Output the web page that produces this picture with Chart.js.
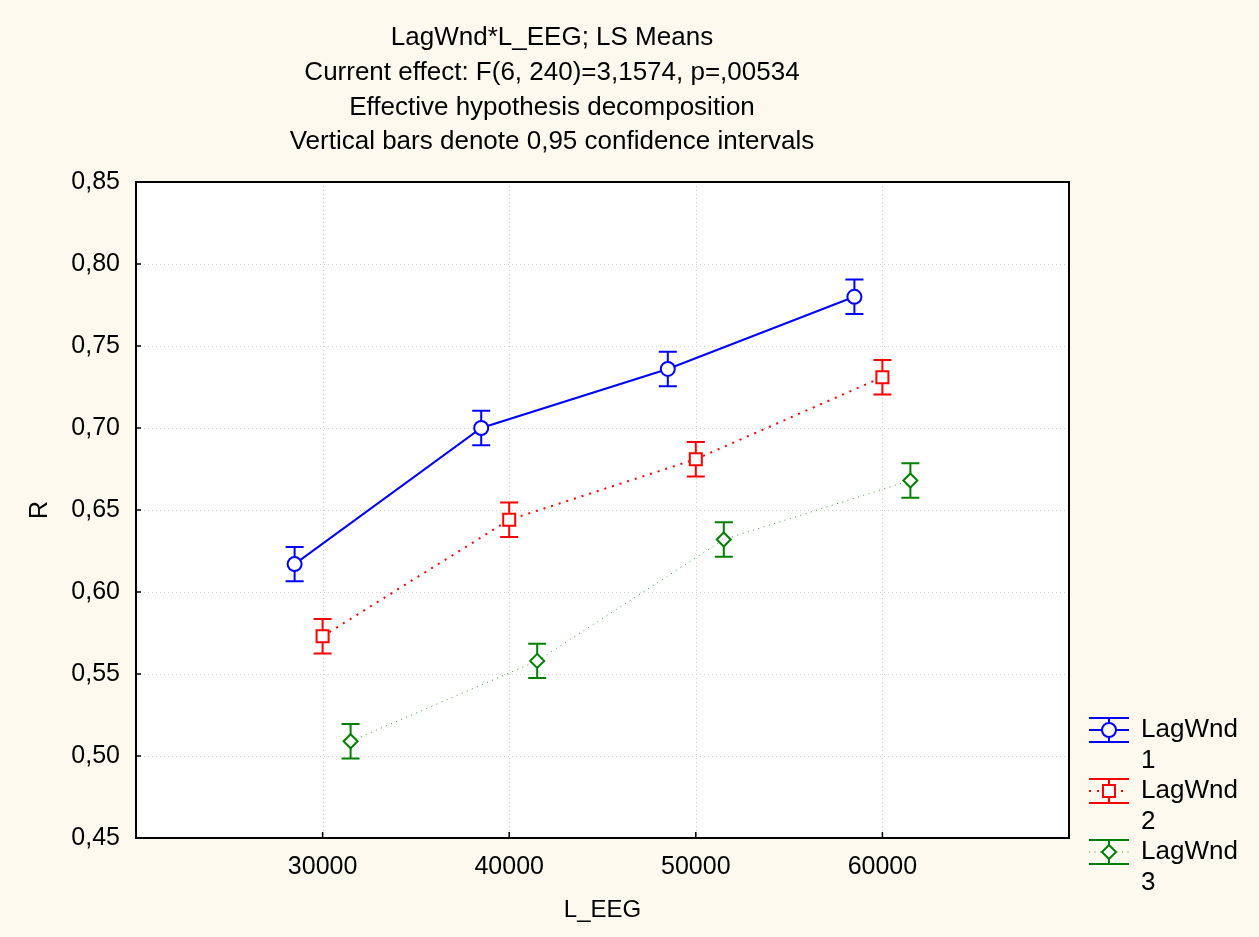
<!DOCTYPE html>
<html><head><meta charset="utf-8">
<script src="https://cdn.jsdelivr.net/npm/chart.js@4/dist/chart.umd.min.js"></script>
<style>html,body{margin:0;padding:0;background:#FDF9EE;}</style>
</head><body>
<canvas id="c" width="1259" height="937"></canvas>
<script>
const titleLines = [
  'LagWnd*L_EEG; LS Means',
  'Current effect: F(6, 240)=3,1574, p=,00534',
  'Effective hypothesis decomposition',
  'Vertical bars denote 0,95 confidence intervals'
];
const xTicks = [30000, 40000, 50000, 60000];
const yTicks = [0.45, 0.50, 0.55, 0.60, 0.65, 0.70, 0.75, 0.80, 0.85];
const seriesNames = [['LagWnd', '1'], ['LagWnd', '2'], ['LagWnd', '3']];
// x positions as plotted (series are offset around each L_EEG level)
const lag1X = [28500, 38500, 48500, 58500];
const lag2X = [30000, 40000, 50000, 60000];
const lag3X = [31500, 41500, 51500, 61500];
const lag1 = [0.617, 0.700, 0.736, 0.780];
const lag2 = [0.573, 0.644, 0.681, 0.731];
const lag3 = [0.509, 0.558, 0.632, 0.668];
const lag1CI = [0.0105, 0.0105, 0.0105, 0.0105];
const lag2CI = [0.0105, 0.0105, 0.0105, 0.0105];
const lag3CI = [0.0105, 0.0105, 0.0105, 0.0105];

const FONT = '"Liberation Sans", Arial, sans-serif';
const FS = 25;
const FT = 26;

const styles = [
  {color:'#0000FF', lineColor:'#0000FF', width:2, dash:[], point:'circle', r:7},
  {color:'#FF0000', lineColor:'#FF0000', width:2, dash:[2,6], point:'rect', r:8.5},
  {color:'#008000', lineColor:'#3a9a3a', width:1, dash:[1,4.5], point:'rectRot', r:7}
];
const xs = [lag1X, lag2X, lag3X];
const ys = [lag1, lag2, lag3];
const cis = [lag1CI, lag2CI, lag3CI];

const datasets = ys.map((vals, i) => ({
  label: seriesNames[i].join(' '),
  data: vals.map((v, j) => ({x: xs[i][j], y: v})),
  showLine: true,
  borderColor: styles[i].lineColor,
  borderWidth: styles[i].width,
  borderDash: styles[i].dash,
  pointStyle: styles[i].point,
  pointRadius: styles[i].r,
  pointBorderWidth: 2,
  pointBorderColor: styles[i].color,
  pointBackgroundColor: '#FFFFFF',
  ciVals: cis[i]
}));

function marker(ctx, style, x, y, r) {
  ctx.beginPath();
  if (style === 'circle') ctx.arc(x, y, r, 0, Math.PI * 2);
  else if (style === 'rect') { const s = r * Math.SQRT1_2; ctx.rect(x - s, y - s, 2 * s, 2 * s); }
  else { ctx.moveTo(x, y - r); ctx.lineTo(x + r, y); ctx.lineTo(x, y + r); ctx.lineTo(x - r, y); ctx.closePath(); }
  ctx.fillStyle = '#fff'; ctx.fill(); ctx.stroke();
}

const decor = {
  id: 'decor',
  beforeDraw(chart) {
    const {ctx, chartArea: a} = chart;
    ctx.save();
    ctx.fillStyle = '#FDF9EE';
    ctx.fillRect(0, 0, chart.width, chart.height);
    ctx.fillStyle = '#FFFFFF';
    ctx.fillRect(a.left, a.top, a.right - a.left, a.bottom - a.top);
    ctx.strokeStyle = '#cfcfcf'; ctx.lineWidth = 1; ctx.setLineDash([1, 3]);
    const sx = chart.scales.x, sy = chart.scales.y;
    xTicks.forEach(v => { const px = Math.round(sx.getPixelForValue(v)) + 0.5;
      ctx.beginPath(); ctx.moveTo(px, a.top); ctx.lineTo(px, a.bottom); ctx.stroke(); });
    yTicks.forEach(v => { const py = Math.round(sy.getPixelForValue(v)) + 0.5;
      ctx.beginPath(); ctx.moveTo(a.left, py); ctx.lineTo(a.right, py); ctx.stroke(); });
    ctx.setLineDash([]);
    ctx.restore();
  },
  beforeDatasetsDraw(chart) {
    const {ctx} = chart;
    const sx = chart.scales.x, sy = chart.scales.y;
    ctx.save();
    chart.data.datasets.forEach((ds, i) => {
      ctx.strokeStyle = styles[i].color; ctx.lineWidth = 2;
      ds.data.forEach((p, j) => {
        const px = sx.getPixelForValue(p.x);
        const t = sy.getPixelForValue(p.y + ds.ciVals[j]);
        const b = sy.getPixelForValue(p.y - ds.ciVals[j]);
        ctx.beginPath();
        ctx.moveTo(px, t); ctx.lineTo(px, b);
        ctx.moveTo(px - 9, t); ctx.lineTo(px + 9, t);
        ctx.moveTo(px - 9, b); ctx.lineTo(px + 9, b);
        ctx.stroke();
      });
    });
    ctx.restore();
  },
  afterDraw(chart) {
    const {ctx, chartArea: a} = chart;
    const sx = chart.scales.x, sy = chart.scales.y;
    ctx.save();
    ctx.strokeStyle = '#000'; ctx.lineWidth = 2;
    ctx.strokeRect(a.left, a.top, a.right - a.left, a.bottom - a.top);
    ctx.lineWidth = 1.5;
    xTicks.forEach(v => { const px = sx.getPixelForValue(v);
      ctx.beginPath(); ctx.moveTo(px, a.bottom); ctx.lineTo(px, a.bottom - 6); ctx.stroke(); });
    yTicks.forEach(v => { const py = sy.getPixelForValue(v);
      ctx.beginPath(); ctx.moveTo(a.left, py); ctx.lineTo(a.left + 5, py); ctx.stroke(); });
    // title
    ctx.fillStyle = '#000'; ctx.font = FT + 'px ' + FONT;
    ctx.textAlign = 'center'; ctx.textBaseline = 'middle';
    titleLines.forEach((t, k) => ctx.fillText(t, 552, 38 + k * 34.7));
    // legend
    const lx0 = 1089, lx1 = 1129, lmx = 1109;
    seriesNames.forEach((nm, i) => {
      const cy = 730 + i * 61;
      const st = styles[i];
      ctx.strokeStyle = st.color; ctx.lineWidth = 2; ctx.setLineDash([]);
      ctx.beginPath();
      ctx.moveTo(lx0, cy - 12); ctx.lineTo(lx1, cy - 12);
      ctx.moveTo(lx0, cy + 12); ctx.lineTo(lx1, cy + 12);
      ctx.moveTo(lmx, cy - 12); ctx.lineTo(lmx, cy + 12);
      ctx.stroke();
      ctx.strokeStyle = st.lineColor; ctx.lineWidth = st.width; ctx.setLineDash(st.dash);
      ctx.beginPath(); ctx.moveTo(lx0, cy); ctx.lineTo(lx1, cy); ctx.stroke();
      ctx.setLineDash([]);
      ctx.strokeStyle = st.color; ctx.lineWidth = 2;
      marker(ctx, st.point, lmx, cy, st.r);
      ctx.fillStyle = '#000'; ctx.textAlign = 'left'; ctx.textBaseline = 'middle';
      ctx.fillText(nm[0], 1141, cy);
      ctx.fillText(nm[1], 1141, cy + 31);
    });
    ctx.restore();
  }
};

new Chart(document.getElementById('c'), {
  type: 'scatter',
  data: {datasets},
  options: {
    responsive: false, animation: false, devicePixelRatio: 1,
    layout: {padding: {top: 182, right: 190, left: 0, bottom: 0}},
    plugins: {legend: {display: false}, title: {display: false}, tooltip: {enabled: false}},
    scales: {
      x: {
        type: 'linear', min: 20000, max: 70000,
        afterBuildTicks: s => { s.ticks = xTicks.map(v => ({value: v})); },
        afterFit: s => { s.height = 99; },
        grid: {display: false}, border: {display: false},
        ticks: {color: '#000', font: {family: FONT, size: FS}, padding: 6, maxRotation: 0,
                callback: v => String(v)},
        title: {display: true, text: 'L_EEG', color: '#000', font: {family: FONT, size: 24},
                padding: {top: 0, bottom: 12}}
      },
      y: {
        min: 0.45, max: 0.85,
        afterBuildTicks: s => { s.ticks = yTicks.map(v => ({value: v})); },
        afterFit: s => { s.width = 136; },
        grid: {display: false}, border: {display: false},
        ticks: {color: '#000', font: {family: FONT, size: FS}, padding: 8,
                callback: v => v.toFixed(2).replace('.', ',')},
        title: {display: true, text: 'R', color: '#000', font: {family: FONT, size: 25},
                padding: {top: 25, bottom: 0}}
      }
    }
  },
  plugins: [decor]
});
</script>
</body></html>
